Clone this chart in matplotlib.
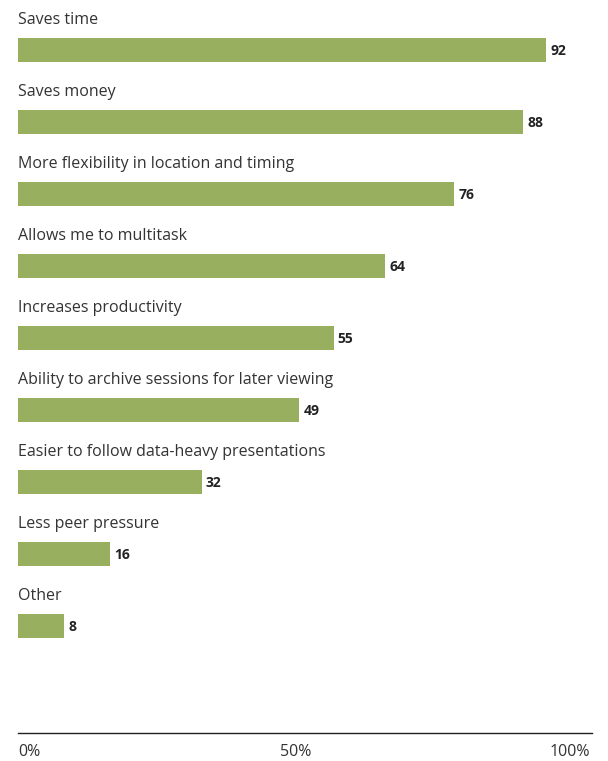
import matplotlib.pyplot as plt
import matplotlib.transforms as mtransforms
import numpy as np

categories = [
    "Saves time",
    "Saves money",
    "More flexibility in location and timing",
    "Allows me to multitask",
    "Increases productivity",
    "Ability to archive sessions for later viewing",
    "Easier to follow data-heavy presentations",
    "Less peer pressure",
    "Other",
]
values = [92, 88, 76, 64, 55, 49, 32, 16, 8]
tick_vals = [0, 50, 100]
tick_labels = ["0%", "50%", "100%"]

W, H = 608, 761
plt.rcParams['font.family'] = ['Open Sans', 'DejaVu Sans']
fig = plt.figure(figsize=(W / 100, H / 100), dpi=100)

# axes: x from 18px to 592px, y from top 0 to axis line at 733px
ax = fig.add_axes([18 / W, (H - 733) / H, (592 - 18) / W, 733 / H])
step = 72.0
ax.set_ylim((733 - 50) / step, -50 / step)
ax.set_xlim(0, 100)

y = np.arange(len(categories))
ax.barh(y, values, height=24 / step, color='#98AF5F', left=0)

for i, (cat, v) in enumerate(zip(categories, values)):
    ax.text(0, i - 25.5 / step, cat, ha='left', va='baseline', fontsize=11.5,
            color='#333333')
    ax.annotate(str(v), xy=(v, i), xytext=(3, -3.4), textcoords='offset points',
                ha='left', va='baseline', fontsize=10, fontweight='bold',
                color='#222222')

for s in ['top', 'right', 'left']:
    ax.spines[s].set_visible(False)
ax.spines['bottom'].set_color('#222222')
ax.spines['bottom'].set_linewidth(1.0)
ax.set_yticks([])
ax.set_xticks(tick_vals)
ax.set_xticklabels(tick_labels, fontsize=11.5, color='#333333')
ax.tick_params(axis='x', length=0, pad=8)
lbls = ax.get_xticklabels()
lbls[0].set_ha('left')
lbls[-1].set_ha('right')
lbls[1].set_transform(lbls[1].get_transform() +
                      mtransforms.ScaledTranslation(-9 / 100, 0, fig.dpi_scale_trans))
lbls[-1].set_transform(lbls[-1].get_transform() +
                       mtransforms.ScaledTranslation(-2 / 100, 0, fig.dpi_scale_trans))

fig.savefig('out.png', dpi=100)
